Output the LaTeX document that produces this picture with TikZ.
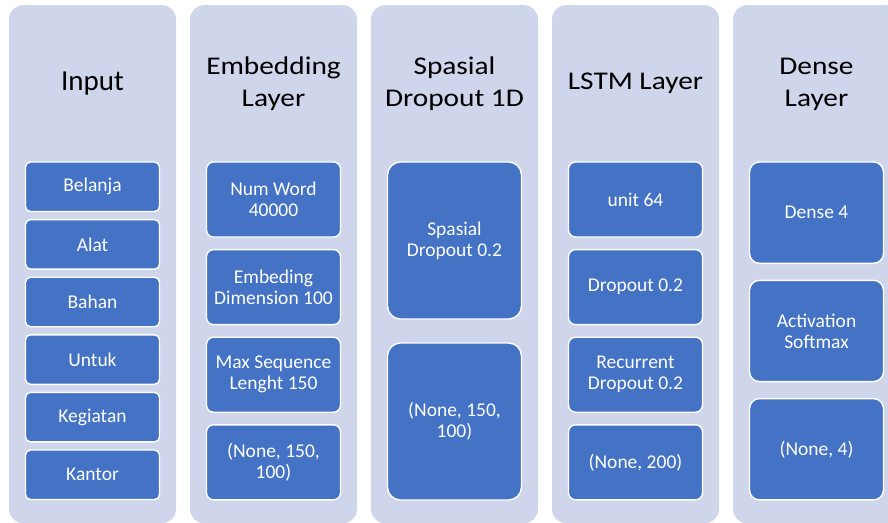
\documentclass[tikz,border=0pt]{standalone}
\usepackage{fontspec}
\setmainfont{Carlito}
\newfontfamily\headfont[FakeStretch=1.15]{Carlito}
\usetikzlibrary{positioning}
\definecolor{lyback}{RGB}{207,213,234}
\definecolor{lybox}{RGB}{68,114,196}
\tikzset{
  lycol/.style={
    fill=lyback, draw=none, rounded corners=14pt, anchor=north,
    minimum width=167pt, minimum height=518pt, inner sep=0pt
  },
  lyhead/.style={font=\headfont\fontsize{25.5}{32}\selectfont, align=center, text=black},
  lyitem/.style={
    fill=lybox, draw=white, line width=1.4pt, text=white, align=center,
    minimum width=134pt, inner sep=2pt, outer sep=0pt,
    font=\fontsize{19.5}{21}\selectfont
  },
  sixbox/.style={lyitem, minimum height=49.5pt, rounded corners=5pt},
  fourbox/.style={lyitem, minimum height=75pt, rounded corners=7pt},
  twobox/.style={lyitem, minimum height=157pt, rounded corners=13pt},
  threebox/.style={lyitem, minimum height=101.3pt, rounded corners=10pt}
}
\begin{document}
\begin{tikzpicture}[x=1pt, y=-1pt]
  \useasboundingbox (0,0) rectangle (888,522);
  \clip (0,0) rectangle (888,522);
  \foreach \n/\cx in {in/92.5,emb/273.5,sdrop/454.5,lstm/635.5,dense/816.5}
    \node[lycol] (\n) at (\cx,5) {};
  % layer titles
  \node[lyhead, font=\fontsize{29}{32}\selectfont] (inT) at (92.5,83.5) {Input};
  \node[lyhead] (embT) at (273.5,84) {Embedding\\Layer};
  \node[lyhead] (sdropT) at (454.5,84) {Spasial\\Dropout 1D};
  \node[lyhead] (lstmT) at (635.5,83.5) {LSTM Layer};
  \node[lyhead] (denseT) at (816.5,84) {Dense\\Layer};
  % input words
  \node[sixbox, anchor=north] (in1) at (92.5,162) {Belanja};
  \node[sixbox, below=8.1pt of in1] (in2) {Alat};
  \node[sixbox, below=8.1pt of in2] (in3) {Bahan};
  \node[sixbox, below=8.1pt of in3] (in4) {Untuk};
  \node[sixbox, below=8.1pt of in4] (in5) {Kegiatan};
  \node[sixbox, below=8.1pt of in5] (in6) {Kantor};
  % embedding
  \node[fourbox, anchor=north] (emb1) at (273.5,162) {Num Word\\40000};
  \node[fourbox, below=12.6pt of emb1] (emb2) {Embeding\\Dimension 100};
  \node[fourbox, below=12.6pt of emb2] (emb3) {Max Sequence\\Lenght 150};
  \node[fourbox, below=12.6pt of emb3] (emb4) {(None, 150,\\100)};
  % spatial dropout
  \node[twobox, anchor=north] (sdrop1) at (454.5,162) {Spasial\\Dropout 0.2};
  \node[twobox, below=24pt of sdrop1] (sdrop2) {(None, 150,\\100)};
  % lstm
  \node[fourbox, anchor=north] (lstm1) at (635.5,162) {unit 64};
  \node[fourbox, below=12.6pt of lstm1] (lstm2) {Dropout 0.2};
  \node[fourbox, below=12.6pt of lstm2] (lstm3) {Recurrent\\Dropout 0.2};
  \node[fourbox, below=12.6pt of lstm3] (lstm4) {(None, 200)};
  % dense
  \node[threebox, anchor=north] (dense1) at (816.5,162) {Dense 4};
  \node[threebox, below=17pt of dense1] (dense2) {Activation\\Softmax};
  \node[threebox, below=17pt of dense2] (dense3) {(None, 4)};
\end{tikzpicture}
\end{document}
